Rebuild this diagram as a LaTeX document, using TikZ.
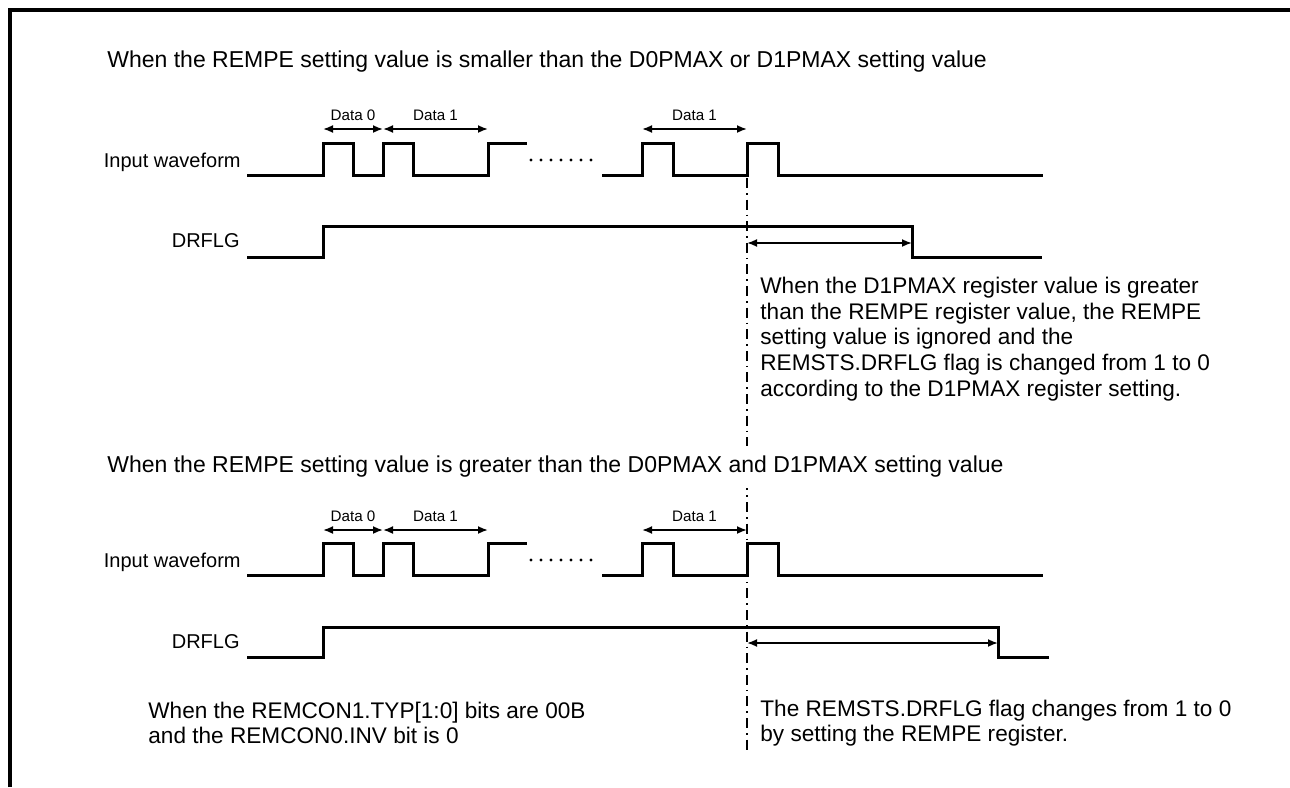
\documentclass[tikz,border=0pt]{standalone}
\usepackage{fontspec}
\setmainfont{Liberation Sans}
\usetikzlibrary{arrows.meta}

\begin{document}
\begin{tikzpicture}[x=0.5pt, y=-0.5pt,
  wave/.style={line width=1.5pt, line join=miter},
  dim/.style={{Latex[length=5pt,width=4pt]}-{Latex[length=5pt,width=4pt]}, line width=0.9pt},
  lbl/.style={font=\fontsize{11.3}{12.8}\selectfont, inner sep=0pt},
  sig/.style={font=\fontsize{10}{12}\selectfont, inner sep=0pt, anchor=east},
  title/.style={font=\fontsize{11.5}{13}\selectfont, inner xsep=0pt, anchor=west, fill=white, inner ysep=5pt},
  dlbl/.style={font=\fontsize{7.6}{9}\selectfont, inner sep=0pt},
  note/.style={lbl, align=left, anchor=west},
  dashdot/.style={line width=1pt, dash pattern=on 5pt off 2.5pt on 0.8pt off 2.5pt},
  dots/.style={line width=1.6pt, line cap=round, dash pattern=on 0pt off 5pt}]
  \useasboundingbox (0,0) rectangle (1290,787);
  % frame (left and top only)
  \draw[line width=2pt] (9.5,787) -- (9.5,10) -- (1290,10);

  % common timing cut
  \coordinate (cut top) at (747,178);
  \coordinate (cut bot) at (747,752);
  \draw[dashdot] (cut top) -- (cut bot);

  %% case 1: REMPE < D0PMAX / D1PMAX
  \node[title] (head1) at (107,62) {When the REMPE setting value is smaller than the D0PMAX or D1PMAX setting value};
  \node[sig] (in1) at (241,162) {Input waveform};
  \node[sig] (flg1) at (240,241) {DRFLG};

  \draw[wave] (247,175) -| (323,143) -| (353,175) -| (383,143) -| (413,175) -| (488,143) -- (527,143);
  \draw[dots] (531,160) -- (596,160);
  \draw[wave] (602,175) -| (642,143) -| (673,175) -| (747,143) -| (778,175) -- (1043,175);
  \draw[wave] (247,257) -| (323,226) -| (912,257) -- (1042,257);

  \coordinate (p1a) at (323,129);
  \coordinate (p1b) at (383,129);
  \coordinate (p1c) at (488,129);
  \coordinate (p1d) at (642,129);
  \coordinate (p1e) at (747,129);
  \draw[dim] (p1a) -- node[dlbl, above=3.5pt] (d10) {Data 0} (p1b);
  \draw[dim] (p1b) -- node[dlbl, above=3.5pt] (d11) {Data 1} (p1c);
  \draw[dim] (p1d) -- node[dlbl, above=3.5pt] (d12) {Data 1} (p1e);

  \coordinate (w1a) at (747,243);
  \coordinate (w1b) at (912,243);
  \draw[dim] (w1a) -- (w1b);
  \node[note] (note1) at (760,339) {When the D1PMAX register value is greater\\than the REMPE register value, the REMPE\\setting value is ignored and the\\REMSTS.DRFLG flag is changed from 1 to 0\\according to the D1PMAX register setting.};

  %% case 2: REMPE > D0PMAX and D1PMAX
  \node[title] (head2) at (107,467) {When the REMPE setting value is greater than the D0PMAX and D1PMAX setting value};
  \node[sig] (in2) at (241,562) {Input waveform};
  \node[sig] (flg2) at (240,642) {DRFLG};

  \draw[wave] (247,575) -| (323,543) -| (353,575) -| (383,543) -| (413,575) -| (488,543) -- (527,543);
  \draw[dots] (531,560) -- (596,560);
  \draw[wave] (602,575) -| (642,543) -| (673,575) -| (747,543) -| (778,575) -- (1043,575);
  \draw[wave] (247,657) -| (323,627) -| (998,657) -- (1049,657);

  \coordinate (p2a) at (323,530);
  \coordinate (p2b) at (383,530);
  \coordinate (p2c) at (488,530);
  \coordinate (p2d) at (642,530);
  \coordinate (p2e) at (747,530);
  \draw[dim] (p2a) -- node[dlbl, above=3.5pt] (d20) {Data 0} (p2b);
  \draw[dim] (p2b) -- node[dlbl, above=3.5pt] (d21) {Data 1} (p2c);
  \draw[dim] (p2d) -- node[dlbl, above=3.5pt] (d22) {Data 1} (p2e);

  \coordinate (w2a) at (747,643);
  \coordinate (w2b) at (998,643);
  \draw[dim] (w2a) -- (w2b);
  \node[note] (cond) at (148,723) {When the REMCON1.TYP[1:0] bits are 00B\\and the REMCON0.INV bit is 0};
  \node[note] (note2) at (760,723) {The REMSTS.DRFLG flag changes from 1 to 0\\by setting the REMPE register.};
\end{tikzpicture}
\end{document}
